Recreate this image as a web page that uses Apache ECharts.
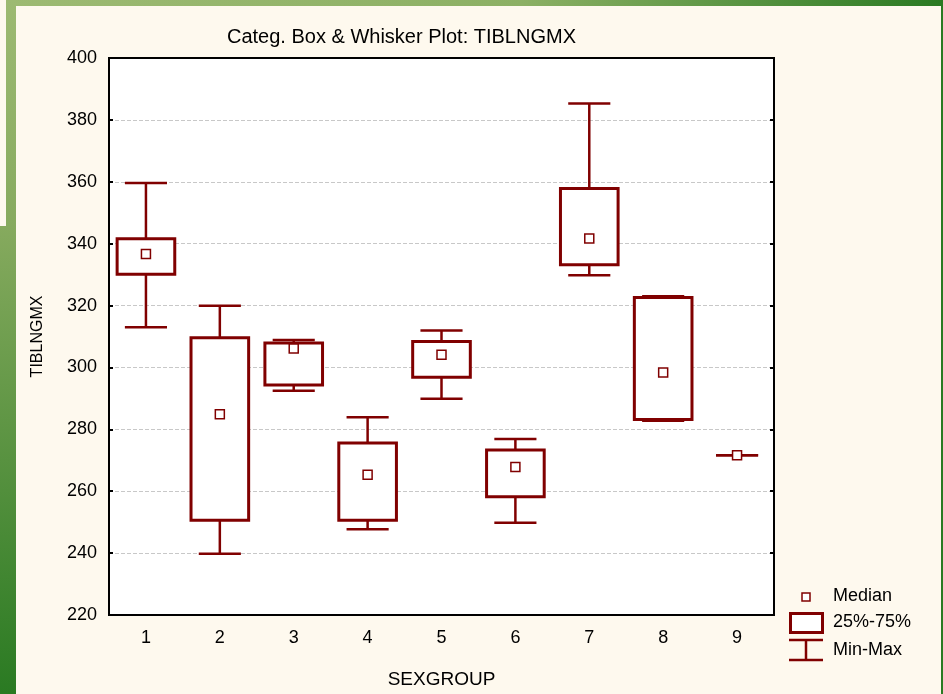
<!DOCTYPE html>
<html>
<head>
<meta charset="utf-8">
<script src="https://cdn.jsdelivr.net/npm/echarts@6/dist/echarts.min.js"></script>
<style>
html,body{margin:0;padding:0;background:#FEF9EE;}
#c{width:943px;height:694px;}
</style>
</head>
<body>
<div id="c"></div>
<script>
// ---- data ----
var categories = ['1','2','3','4','5','6','7','8','9'];
var minVals    = [313.0, 239.8, 292.5, 247.7, 289.9, 249.8, 329.8, 282.8, 271.6];
var q1Vals     = [330.1, 250.6, 294.3, 250.6, 296.8, 258.2, 333.2, 283.2, 271.6];
var medianVals = [336.7, 284.9, 306.1, 265.3, 304.1, 267.8, 341.7, 298.4, 271.6];
var q3Vals     = [341.6, 309.6, 307.9, 275.6, 308.4, 273.3, 357.8, 322.6, 271.6];
var maxVals    = [359.6, 319.9, 308.9, 283.9, 311.9, 276.9, 385.3, 323.0, 271.6];
var yTicks = {min: 220, max: 400, step: 20};

var RED = '#800000';
var FONT = '"Liberation Sans", Arial, sans-serif';

var seriesData = categories.map(function (c, i) {
  return [i, minVals[i], q1Vals[i], medianVals[i], q3Vals[i], maxVals[i]];
});

function renderItem(params, api) {
  var idx = api.value(0);
  var pMin = api.coord([idx, api.value(1)]);
  var pQ1 = api.coord([idx, api.value(2)]);
  var pMed = api.coord([idx, api.value(3)]);
  var pQ3 = api.coord([idx, api.value(4)]);
  var pMax = api.coord([idx, api.value(5)]);
  var band = api.size([1, 0])[0];
  var bw = band * 0.39;
  var cw = band * 0.285;
  var x = pMed[0];
  var children = [];
  var wStyle = {stroke: RED, lineWidth: 2.5, fill: null};
  children.push({type: 'line', shape: {x1: x, y1: pMax[1], x2: x, y2: pQ3[1]}, style: wStyle});
  children.push({type: 'line', shape: {x1: x, y1: pQ1[1], x2: x, y2: pMin[1]}, style: wStyle});
  children.push({type: 'line', shape: {x1: x - cw, y1: pMax[1], x2: x + cw, y2: pMax[1]}, style: wStyle});
  children.push({type: 'line', shape: {x1: x - cw, y1: pMin[1], x2: x + cw, y2: pMin[1]}, style: wStyle});
  if (api.value(4) > api.value(2)) {
    children.push({type: 'rect', shape: {x: x - bw, y: pQ3[1], width: 2 * bw, height: pQ1[1] - pQ3[1]},
      style: {stroke: RED, lineWidth: 3, fill: '#fff'}});
  }
  children.push({type: 'rect', shape: {x: x - 4.5, y: pMed[1] - 4.5, width: 9, height: 9},
    style: {stroke: RED, lineWidth: 1.5, fill: '#fff'}});
  return {type: 'group', children: children};
}

var chart = echarts.init(document.getElementById('c'), null, {renderer: 'canvas'});

var legendX = 789, legendTextX = 833;
var option = {
  backgroundColor: '#FEF9EE',
  animation: false,
  textStyle: {fontFamily: FONT},
  title: {
    text: 'Categ. Box & Whisker Plot: TIBLNGMX',
    left: 222, top: 22,
    textStyle: {fontFamily: FONT, fontSize: 20, fontWeight: 'normal', color: '#000'}
  },
  grid: {left: 109, right: 169, top: 58, bottom: 79, show: true, backgroundColor: '#fff',
    borderColor: '#000', borderWidth: 2},
  xAxis: [{
    type: 'category', data: categories, boundaryGap: true,
    name: 'SEXGROUP', nameLocation: 'middle', nameGap: 55,
    nameTextStyle: {fontFamily: FONT, fontSize: 19, color: '#000'},
    axisLine: {lineStyle: {color: '#000', width: 2}},
    axisTick: {inside: true, alignWithLabel: true, length: 5, lineStyle: {color: '#000', width: 1.5}},
    axisLabel: {fontFamily: FONT, fontSize: 18, color: '#000', margin: 14},
    splitLine: {show: false}
  }, {
    type: 'category', data: categories, boundaryGap: true, position: 'top', z: 10,
    axisLine: {show: true, lineStyle: {color: '#000', width: 2}},
    axisTick: {show: false}, axisLabel: {show: false}, splitLine: {show: false}
  }],
  yAxis: [{
    type: 'value', min: yTicks.min, max: yTicks.max, interval: yTicks.step,
    name: 'TIBLNGMX', nameLocation: 'middle', nameGap: 63, nameRotate: 90,
    nameTextStyle: {fontFamily: FONT, fontSize: 16, color: '#000'},
    axisLine: {show: true, lineStyle: {color: '#000', width: 2}},
    axisTick: {show: true, inside: true, length: 4, lineStyle: {color: '#000', width: 2}},
    axisLabel: {fontFamily: FONT, fontSize: 18, color: '#000', margin: 12},
    splitLine: {show: true, lineStyle: {color: '#c8c8c8', type: 'dashed', width: 1}}
  }, {
    type: 'value', min: yTicks.min, max: yTicks.max, interval: yTicks.step, position: 'right', z: 10,
    axisLine: {show: true, lineStyle: {color: '#000', width: 2}},
    axisTick: {show: true, inside: true, length: 4, lineStyle: {color: '#000', width: 2}},
    axisLabel: {show: false},
    splitLine: {show: false}
  }],
  series: [{
    type: 'custom', renderItem: renderItem, data: seriesData,
    encode: {x: 0, y: [1, 2, 3, 4, 5]}, z: 5
  }],
  graphic: [
    {type: 'rect', z: -10, shape: {x: 6, y: 0, width: 937, height: 6},
      style: {fill: new echarts.graphic.LinearGradient(0, 0, 1, 0, [{offset: 0, color: '#9DBA72'}, {offset: 0.55, color: '#8CB064'}, {offset: 1, color: '#2A7A22'}])}},
    {type: 'rect', z: -10, shape: {x: 6, y: 0, width: 10, height: 694},
      style: {fill: new echarts.graphic.LinearGradient(0, 0, 0, 1, [{offset: 0, color: '#9DBA72'}, {offset: 0.33, color: '#86AA5E'}, {offset: 1, color: '#2A7A22'}])}},
    {type: 'rect', z: -10, shape: {x: 0, y: 226, width: 16, height: 468},
      style: {fill: new echarts.graphic.LinearGradient(0, 0, 0, 1, [{offset: 0, color: '#86AA5E'}, {offset: 1, color: '#2A7A22'}])}},
    {type: 'rect', z: -10, shape: {x: 941, y: 0, width: 2, height: 694}, style: {fill: '#2A7A22'}},
    {type: 'rect', shape: {x: 802, y: 593, width: 8, height: 8}, style: {stroke: RED, lineWidth: 1.5, fill: '#fff'}},
    {type: 'text', left: legendTextX, top: 587, style: {text: 'Median', font: '18px ' + FONT, fill: '#000'}},
    {type: 'rect', shape: {x: legendX + 1.5, y: 613.5, width: 32, height: 19}, style: {stroke: RED, lineWidth: 3, fill: '#fff'}},
    {type: 'text', left: legendTextX, top: 613, style: {text: '25%-75%', font: '18px ' + FONT, fill: '#000'}},
    {type: 'line', shape: {x1: legendX, y1: 640, x2: legendX + 34, y2: 640}, style: {stroke: RED, lineWidth: 2.5}},
    {type: 'line', shape: {x1: legendX, y1: 660, x2: legendX + 34, y2: 660}, style: {stroke: RED, lineWidth: 2.5}},
    {type: 'line', shape: {x1: legendX + 17, y1: 640, x2: legendX + 17, y2: 660}, style: {stroke: RED, lineWidth: 2.5}},
    {type: 'text', left: legendTextX, top: 641, style: {text: 'Min-Max', font: '18px ' + FONT, fill: '#000'}}
  ]
};
chart.setOption(option);
</script>
</body>
</html>
